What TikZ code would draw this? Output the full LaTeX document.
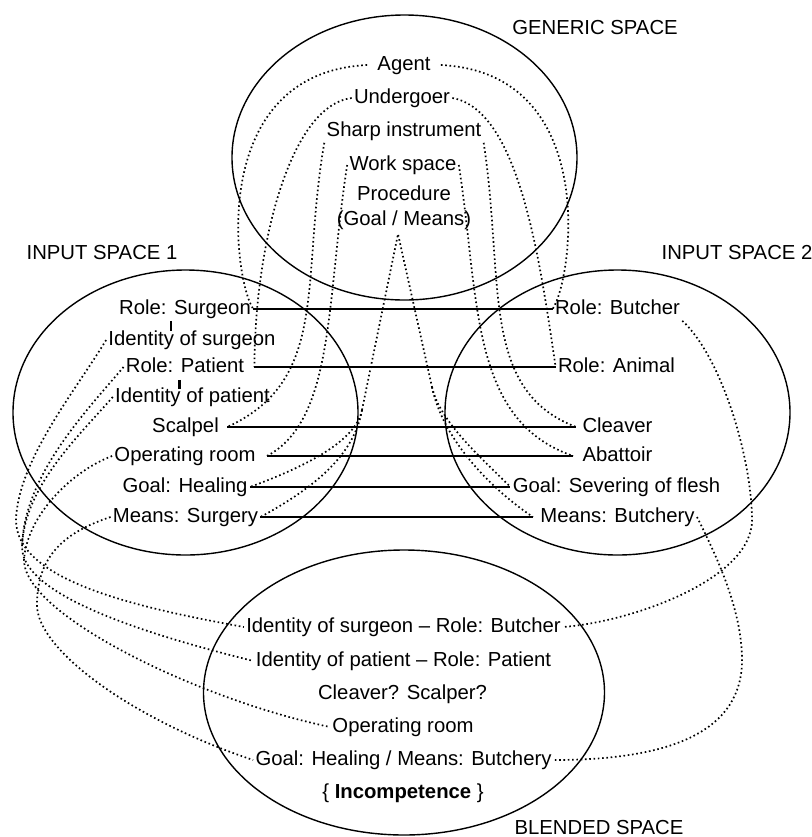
\documentclass[tikz,border=0pt]{standalone}
\usepackage{fontspec}
\setmainfont{Liberation Sans}
\tikzset{
  item/.style={inner sep=1pt, text height=7.3pt, text depth=2.1pt},
  space/.style={line width=0.7pt},
  bar/.style={line width=0.55pt},
  link/.style={line width=0.85pt, dash pattern=on 0.8pt off 1.35pt},
  tick/.style={line width=1.1pt},
}

\begin{document}
\begin{tikzpicture}[x=0.5pt, y=-0.5pt, font=\fontsize{10.15}{12}\selectfont]
    \useasboundingbox (0,0) rectangle (811,837);

    \coordinate (gen) at (404.5,157.5);
    \coordinate (inA) at (185.5,412.5);
    \coordinate (inB) at (617.5,412.5);
    \coordinate (blend) at (404,692.5);
    \draw[space] (gen) ellipse [x radius=172.5, y radius=142.5];
    \draw[space] (inA) ellipse [x radius=172.5, y radius=142.5];
    \draw[space] (inB) ellipse [x radius=172.5, y radius=142.5];
    \draw[space] (blend) ellipse [x radius=200.5, y radius=142.5];

    \node (genlbl) at (595,28) {GENERIC SPACE};
    \node (inAlbl) at (102,253) {INPUT SPACE 1};
    \node (inBlbl) at (737,253) {INPUT SPACE 2};
    \node (blendlbl) at (599,827) {BLENDED SPACE};

    \node[item, inner xsep=5pt] (agent) at (404,65) {Agent};
    \node[item] (under) at (402,98) {Undergoer};
    \node[item] (sharp) at (404,131) {Sharp instrument};
    \node[item] (work) at (403,165) {Work space};
    \node[item] (proc) at (404,195) {Procedure};
    \node[item] (goalmeans) at (404,220) {(Goal / Means)};

    \node[item] (rsurg) at (185,309) {Role: Surgeon};
    \node[item] (isurg) at (192,340) {Identity of surgeon};
    \node[item] (rpat) at (189,367) {Role: Patient\kern4pt};
    \node[item] (ipat) at (192.5,397) {Identity of patient};
    \node[item] (scalpel) at (188.5,427) {Scalpel\kern3pt};
    \node[item] (oproom) at (189.5,456) {Operating room\kern4.5pt};
    \node[item] (heal) at (185,487) {Goal: Healing};
    \node[item] (msurg) at (185.5,517) {Means: Surgery};

    \node[item] (rbutch) at (617.5,309) {Role: Butcher};
    \node[item] (ranim) at (616.5,367) {Role: Animal};
    \node[item] (cleaver) at (615.5,427) {\kern2pt Cleaver};
    \node[item] (abatt) at (614,456) {\kern3.5pt Abattoir};
    \node[item] (sever) at (616.5,487) {Goal: Severing of flesh};
    \node[item] (mbutch) at (615,517) {\kern2.5pt Means: Butchery};

    \node[item] (bsurg) at (403.5,627) {Identity of surgeon – Role: Butcher};
    \node[item] (bpat) at (403.5,661) {Identity of patient – Role: Patient};
    \node[item] (btool) at (402.5,694) {Cleaver? Scalper?};
    \node[item] (broom) at (403,727) {Operating room};
    \node[item] (bgoal) at (403.5,760) {Goal: Healing / Means: Butchery};
    \node[item] (bsum) at (403,793) {\{ \textbf{Incompetence} \}};

    \draw[tick] (rsurg.south west) ++(54,0) -- ++(0,10);
    \draw[tick] (rpat.south west) ++(56,1) -- ++(0,9);

    \draw[bar] (rsurg.east) -- (rbutch.west);
    \draw[bar] (rpat.east) -- (ranim.west);
    \draw[bar] (scalpel.east) -- (cleaver.west);
    \draw[bar] (oproom.east) -- (abatt.west);
    \draw[bar] (heal.east) -- (sever.west);
    \draw[bar] (msurg.east) -- (mbutch.west);

    \draw[link] (agent.west) .. controls +(-160,8) and +(-20,-30) .. (rsurg.east);
    \draw[link] (agent.east) .. controls +(160,8) and +(20,-30) .. (rbutch.west);
    \draw[link] (under.west) .. controls +(-63,8) and +(0,-117) .. (rpat.east);
    \draw[link] (under.east) .. controls +(68,12) and +(-15,-100) .. (ranim.west);
    \draw[link] (sharp.south west) .. controls +(-24,138) and +(103,-47) .. (scalpel.east);
    \draw[link] (sharp.south east) .. controls +(21,138) and +(-97,-37) .. (cleaver.west);
    \draw[link] (work.west) .. controls +(-21,135) and +(68,-36) .. (oproom.east);
    \draw[link] (work.east) .. controls +(21,135) and +(-104,-36) .. (abatt.west);

    \coordinate (apex) at (398,234);
    \coordinate (forkL) at (362,410);
    \coordinate (forkR) at (432,387);
    \draw[link] (forkL) -- (apex) -- (forkR);
    \draw[link] (forkL) .. controls +(-6,30) and +(60,-22) .. (heal.east);
    \draw[link] (forkL) .. controls +(-8,45) and +(55,-30) .. (msurg.east);
    \draw[link] (forkR) .. controls +(8,35) and +(-30,-30) .. (sever.west);
    \draw[link] (forkR) .. controls +(10,50) and +(-45,-30) .. (mbutch.west);

    \coordinate (w1) at (16,520);
    \coordinate (w3) at (22,547);
    \coordinate (w4) at (24,560);
    \coordinate (w5) at (37,605);
    \coordinate (w6) at (752,520);
    \coordinate (w7) at (742,660);
    \draw[link] (isurg.west) .. controls +(-30,50) and +(2,-60) .. (w1)
        .. controls +(0,60) and +(-110,-20) .. (bsurg.west);
    \draw[link] (rpat.west) .. controls +(-38,45) and +(2,-72) .. (w3);
    \draw[link] (ipat.west) .. controls +(-35,40) and +(2,-60) .. (w3)
        .. controls +(0,50) and +(-100,-25) .. (bpat.west);
    \draw[link] (oproom.west) .. controls +(-40,15) and +(3,-45) .. (w4)
        .. controls +(0,55) and +(-130,-27) .. (broom.west);
    \draw[link] (msurg.west) .. controls +(-45,15) and +(0,-50) .. (w5)
        .. controls +(0,45) and +(-120,-40) .. (bgoal.west);
    \draw[link] (rbutch.south east) .. controls +(40,37) and +(0,-60) .. (w6)
        .. controls +(0,60) and +(67,-5) .. (bsurg.east);
    \draw[link] (mbutch.east) .. controls +(20,40) and +(0,-50) .. (w7)
        .. controls +(0,70) and +(120,0) .. (bgoal.east);
\end{tikzpicture}
\end{document}
